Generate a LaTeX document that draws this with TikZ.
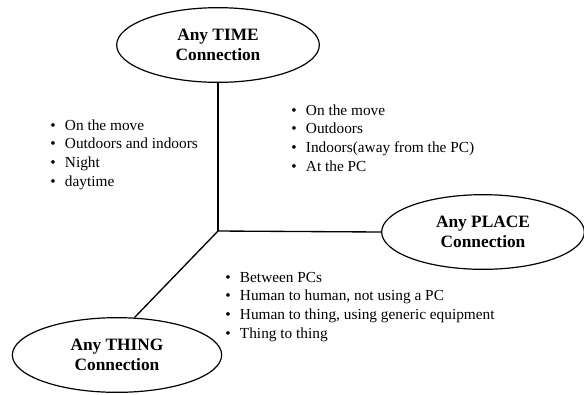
\documentclass[tikz,border=0pt]{standalone}
\usepackage{fontspec}
\setmainfont{Liberation Serif}
\usetikzlibrary{shapes, calc, positioning}
\tikzset{
    x=0.75pt, y=-0.75pt,% one unit is one pixel of the 584x394 layout
    state/.style ={ellipse, draw, line width=0.9pt, inner sep=0pt, align=center,
                   minimum width=152pt, minimum height=56pt,
                   font=\fontsize{13}{14.5}\selectfont\bfseries}, % the connection ellipses
    bullets/.style = {anchor=base west, inner sep=0pt, font=\fontsize{11.5}{14}\selectfont},
    link/.style = {line width=1pt}
}
\newcommand{\bulletlist}[1]{\begin{tabular}[t]{@{}l@{\hspace{7pt}}l@{}}#1\end{tabular}}

\begin{document}
\begin{tikzpicture}
    \useasboundingbox (0,0) rectangle (584,394);
    \node [state] (time) at (218,45) {Any TIME\\Connection};
    \node [state] (place) at (483,232) {Any PLACE\\Connection};
    \node [state, minimum width=157pt] (thing) at (117,355) {Any THING\\Connection};
    \coordinate (hub) at (218,231);

    \draw [link] (time.south) -- (hub);
    \draw [link] (hub) -- (place.west);
    \draw [link] (hub) -- (thing.65);

    \node [bullets] (timelist) at (50,130) {\bulletlist{
        \textbullet & On the move\\ \textbullet & Outdoors and indoors\\
        \textbullet & Night\\ \textbullet & daytime}};
    \node [bullets] (placelist) at (291,115) {\bulletlist{
        \textbullet & On the move\\ \textbullet & Outdoors\\
        \textbullet & Indoors(away from the PC)\\ \textbullet & At the PC}};
    \node [bullets] (thinglist) at (225,282) {\bulletlist{
        \textbullet & Between PCs\\ \textbullet & Human to human, not using a PC\\
        \textbullet & Human to thing, using generic equipment\\ \textbullet & Thing to thing}};
\end{tikzpicture}
\end{document}
